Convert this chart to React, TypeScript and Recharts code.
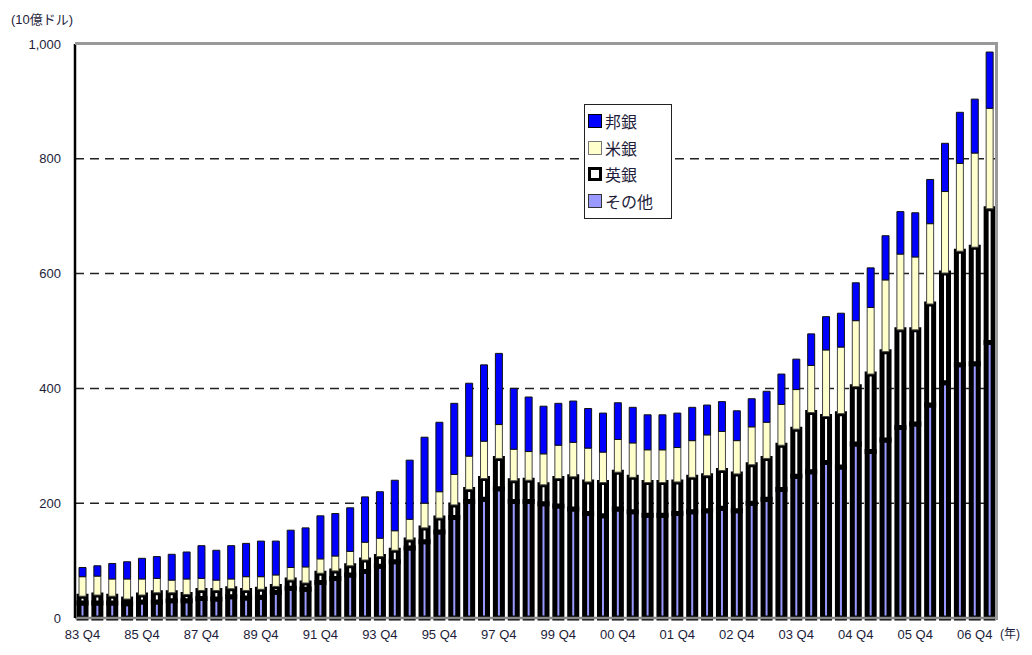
import React from 'react';
import { BarChart, Bar, XAxis, YAxis, CartesianGrid, Legend } from 'recharts';

const categories = [
  '83 Q4', '84 Q2', '84 Q4', '85 Q2', '85 Q4', '86 Q2', '86 Q4', '87 Q2', '87 Q4', '88 Q2',
  '88 Q4', '89 Q2', '89 Q4', '90 Q2', '90 Q4', '91 Q2', '91 Q4', '92 Q2', '92 Q4', '93 Q2',
  '93 Q4', '94 Q2', '94 Q4', '95 Q2', '95 Q4', '96 Q2', '96 Q4', '97 Q2', '97 Q4', '98 Q2',
  '98 Q4', '99 Q2', '99 Q4', '00 Q1', '00 Q2', '00 Q3', '00 Q4', '01 Q1', '01 Q2', '01 Q3',
  '01 Q4', '02 Q1', '02 Q2', '02 Q3', '02 Q4', '03 Q1', '03 Q2', '03 Q3', '03 Q4', '04 Q1',
  '04 Q2', '04 Q3', '04 Q4', '05 Q1', '05 Q2', '05 Q3', '05 Q4', '06 Q1', '06 Q2', '06 Q3',
  '06 Q4', '07 Q1',
];

// その他
const other = [
  26, 26, 26, 25, 28, 28, 30, 30, 34, 33, 37, 35, 36, 45, 52, 50, 62, 69, 75, 81,
  90, 98, 122, 133, 150, 175, 203, 207, 225, 203, 203, 199, 195, 190, 182, 178, 190, 185, 179, 179,
  182, 185, 187, 191, 187, 200, 207, 224, 247, 255, 271, 263, 303, 290, 310, 332, 338, 371, 410, 441,
  443, 480,
];
// 英銀
const ukBanks = [
  12, 14, 12, 8, 12, 16, 14, 11, 14, 15, 14, 13, 14, 10, 14, 11, 16, 13, 16, 20,
  17, 20, 14, 24, 24, 22, 21, 36, 53, 36, 37, 33, 48, 56, 55, 58, 64, 60, 57, 57,
  55, 60, 61, 66, 64, 67, 71, 77, 82, 103, 80, 93, 100, 135, 154, 170, 164, 176, 191, 198,
  203, 233,
];
// 米銀
const usBanks = [
  34, 33, 30, 35, 28, 25, 22, 27, 21, 18, 17, 24, 22, 20, 22, 28, 25, 26, 25, 31,
  32, 34, 36, 43, 46, 53, 58, 65, 59, 55, 50, 54, 58, 60, 59, 53, 57, 60, 57, 57,
  60, 64, 71, 68, 58, 66, 63, 71, 69, 82, 116, 116, 115, 116, 125, 132, 127, 140, 142, 153,
  164, 175,
];
// 邦銀
const jpBanks = [
  16, 18, 27, 30, 36, 38, 45, 47, 57, 52, 58, 58, 62, 59, 65, 68, 75, 74, 76, 79,
  81, 88, 103, 115, 121, 124, 127, 133, 124, 106, 95, 83, 73, 72, 69, 68, 64, 62, 61, 61,
  60, 58, 52, 52, 52, 49, 54, 53, 53, 55, 58, 59, 66, 69, 77, 74, 77, 77, 84, 89,
  94, 98,
];

const yTicks = [0, 200, 400, 600, 800, 1000];

const data = categories.map((name, i) => ({
  name,
  other: other[i],
  uk: ukBanks[i],
  us: usBanks[i],
  jp: jpBanks[i],
}));

const font = "'Liberation Sans', 'Noto Sans CJK JP', Arial, sans-serif";
const textColor = '#1d1d3a';

const legendItems = [
  { name: '邦銀', fill: '#0000ff', border: '#000', bw: 1 },
  { name: '米銀', fill: '#ffffcc', border: '#777', bw: 1 },
  { name: '英銀', fill: '#ffffff', border: '#000', bw: 3 },
  { name: 'その他', fill: '#9999ff', border: '#333', bw: 1 },
];

function LegendBox() {
  return (
    <div
      style={{
        border: '1.5px solid #222',
        background: '#fff',
        padding: '3px 3px 4px 3px',
        width: 80,
        fontFamily: font,
      }}
    >
      {legendItems.map((it) => (
        <div key={it.name} style={{ display: 'flex', alignItems: 'center', height: 26.5 }}>
          <span
            style={{
              display: 'inline-block',
              width: 12 - it.bw * 2 + 2,
              height: 12 - it.bw * 2 + 2,
              background: it.fill,
              border: `${it.bw}px solid ${it.border}`,
              marginRight: 3,
            }}
          />
          <span style={{ fontSize: 16, color: textColor }}>{it.name}</span>
        </div>
      ))}
    </div>
  );
}

export default function App() {
  return (
    <div style={{ position: 'absolute', left: 0, top: 0, width: 1032, height: 655, background: '#fff' }}>
      <BarChart
        width={1032}
        height={655}
        data={data}
        margin={{ top: 44, right: 35, left: 8, bottom: 7 }}
        barSize={7}
      >
        <CartesianGrid vertical={false} strokeDasharray="9 6" stroke="#222" strokeWidth={1.5} />
        <XAxis
          dataKey="name"
          interval={3}
          tickLine={false}
          axisLine={{ stroke: '#888', strokeWidth: 2.5 }}
          tick={{ fontSize: 13, fill: textColor, fontFamily: font }}
          tickMargin={6}
          height={30}
        />
        <YAxis
          domain={[0, 1000]}
          ticks={yTicks}
          tickLine={false}
          axisLine={{ stroke: '#000', strokeWidth: 2.5 }}
          tick={{ fontSize: 13, fill: textColor, fontFamily: font }}
          tickFormatter={(v: number) => v.toLocaleString('en-US')}
          width={67}
          tickMargin={8}
        />
        <Legend
          verticalAlign="middle"
          align="center"
          layout="vertical"
          wrapperStyle={{ left: 584, top: 104, width: 86 }}
          content={() => <LegendBox />}
        />
        <Bar dataKey="other" stackId="a" name="その他" fill="#9999ff" stroke="#000" strokeWidth={5} isAnimationActive={false} />
        <Bar dataKey="uk" stackId="a" name="英銀" fill="#ffffff" stroke="#000" strokeWidth={5} isAnimationActive={false} />
        <Bar dataKey="us" stackId="a" name="米銀" fill="#ffffcc" stroke="#444" strokeWidth={1} isAnimationActive={false} />
        <Bar dataKey="jp" stackId="a" name="邦銀" fill="#0000ff" stroke="#111" strokeWidth={1} isAnimationActive={false} />
      </BarChart>
      <div
        style={{
          position: 'absolute',
          left: 75,
          top: 42,
          width: 920,
          height: 575,
          borderTop: '3px solid #999',
          borderRight: '3px solid #999',
          pointerEvents: 'none',
        }}
      />
      <div style={{ position: 'absolute', left: 11, top: 9, fontSize: 13, color: textColor, fontFamily: font }}>
        (10億ドル)
      </div>
      <div style={{ position: 'absolute', left: 1000, top: 624, fontSize: 12, color: textColor, fontFamily: font }}>
        (年)
      </div>
    </div>
  );
}
